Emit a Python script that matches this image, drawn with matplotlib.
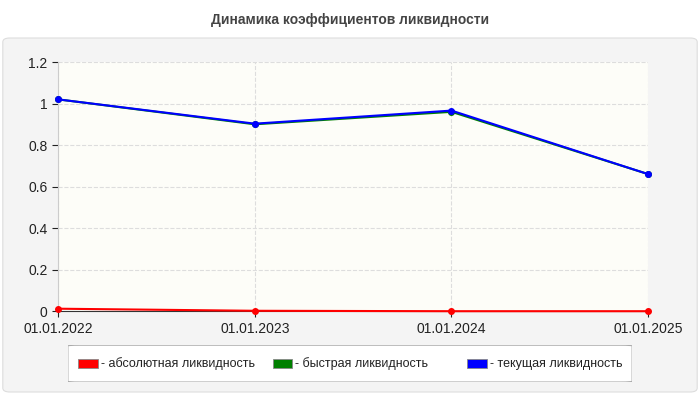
import matplotlib
matplotlib.use("Agg")
import matplotlib.pyplot as plt
from matplotlib.patches import FancyBboxPatch, Rectangle

plt.rcParams["font.family"] = ["Liberation Sans", "DejaVu Sans"]

dates = ["01.01.2022", "01.01.2023", "01.01.2024", "01.01.2025"]
absolute = [0.012, 0.002, 0.0, 0.0]
quick = [1.02, 0.90, 0.96, 0.66]
current = [1.02, 0.903, 0.966, 0.66]
series_names = ["- абсолютная ликвидность", "- быстрая ликвидность", "- текущая ликвидность"]
series_colors = ["#ff0000", "#008000", "#0000ff"]

fig = plt.figure(figsize=(7, 4), dpi=100)
fig.patch.set_facecolor("white")
fig.text(0.5, 0.95, "Динамика коэффициентов ликвидности", ha="center", va="center",
         fontsize=10, fontweight="bold", color="#444444")
bg = FancyBboxPatch((0.004, 0.02), 0.992, 0.885, boxstyle="round,pad=0,rounding_size=0.01",
                    transform=fig.transFigure, facecolor="#f4f4f4", edgecolor="#dddddd", lw=0.8, zorder=-10)
fig.patches.append(bg)

ax = fig.add_axes([0.083, 0.222, 0.843, 0.623])
ax.set_facecolor("#fdfdf8")
x = range(len(dates))
for vals, c in zip([absolute, quick, current], series_colors):
    ax.plot(x, vals, color=c, lw=1.5, marker="o", ms=4, clip_on=False, zorder=3)
ax.set_xlim(0, 3)
ax.set_ylim(0, 1.2)
ax.set_xticks(list(x))
ax.set_xticklabels(dates)
ax.set_yticks([0, 0.2, 0.4, 0.6, 0.8, 1, 1.2])
ax.set_yticklabels(["0", "0.2", "0.4", "0.6", "0.8", "1", "1.2"])
ax.grid(True, color="#dddddd", ls="--", lw=0.8)
for s in ["top", "right"]:
    ax.spines[s].set_visible(False)
ax.spines["left"].set_color("#cccccc")
ax.spines["bottom"].set_color("#333333")
ax.tick_params(labelsize=10, colors="#222222", length=4)

lax = fig.add_axes([0.097, 0.045, 0.806, 0.092])
lax.set_xlim(0, 1); lax.set_ylim(0, 1); lax.axis("off")
lax.add_patch(FancyBboxPatch((0, 0), 1, 1, boxstyle="round,pad=0,rounding_size=0.02",
                             facecolor="white", edgecolor="#aaaaaa", lw=0.8))
for i, (n, c) in enumerate(zip(series_names, series_colors)):
    x0 = 0.018 + i * 0.345
    lax.add_patch(Rectangle((x0, 0.38), 0.035, 0.24, facecolor=c, edgecolor="#888888", lw=0.6))
    lax.text(x0 + 0.04, 0.5, n, va="center", fontsize=9, color="#222222")

fig.savefig("out.png", dpi=100)
